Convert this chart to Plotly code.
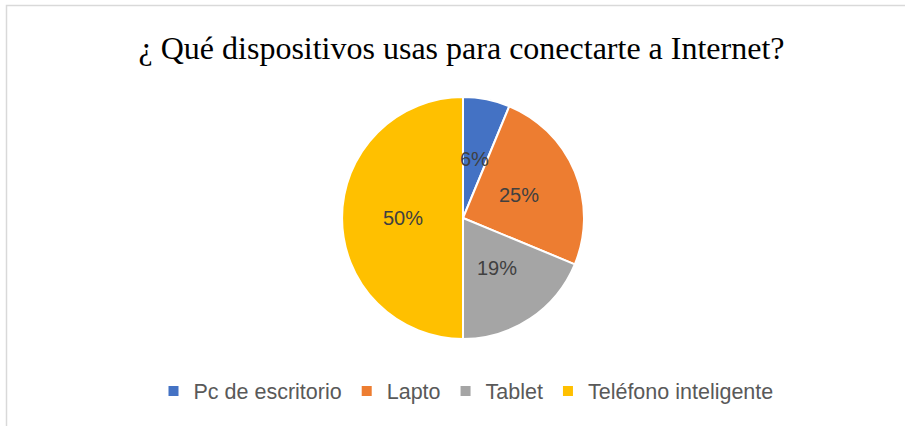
import math
import plotly.graph_objects as go

categories = ["Pc de escritorio", "Lapto", "Tablet", "Teléfono inteligente"]
values = [6.25, 25, 18.75, 50]
colors = ["#4472C4", "#ED7D31", "#A5A5A5", "#FFC000"]
title_text = "¿ Qué dispositivos usas para conectarte a Internet?"

W, H = 905, 426
# pie geometry (pixels)
CX, CY, R = 463, 218, 121
LABEL_FRAC = 0.5

fig = go.Figure(go.Pie(
    labels=categories,
    values=values,
    sort=False,
    direction="clockwise",
    rotation=0,
    marker=dict(colors=colors, line=dict(color="white", width=2)),
    textinfo="none",
    domain=dict(x=[(CX - R) / W, (CX + R) / W], y=[(H - CY - R) / H, (H - CY + R) / H]),
    hoverinfo="label+percent",
))

# data labels placed at half radius, at the middle angle of each slice (as Excel does)
total = sum(values)
annotations = []
cum = 0.0
for v in values:
    mid = (cum + v / 2) / total
    cum += v
    th = 2 * math.pi * mid
    px = CX + LABEL_FRAC * R * math.sin(th)
    py = CY - LABEL_FRAC * R * math.cos(th)
    annotations.append(dict(
        x=px / W, y=(H - py) / H, xref="paper", yref="paper",
        text=f"{round(100 * v / total)}%", showarrow=False,
        xanchor="center", yanchor="middle",
        font=dict(family="Liberation Sans, Arial", size=20, color="#404040"),
    ))

fig.update_layout(
    width=W, height=H,
    margin=dict(l=0, r=0, t=0, b=0),
    paper_bgcolor="white",
    plot_bgcolor="white",
    title=dict(text=title_text, x=461.5 / W, xanchor="center", y=1 - 48 / H, yanchor="middle",
               font=dict(family="Liberation Serif, Times New Roman", size=32, color="black")),
    legend=dict(orientation="h", x=466 / W, xanchor="center", y=(H - 391) / H, yanchor="middle",
                font=dict(family="Liberation Sans, Arial", size=21.5, color="#595959"),
                traceorder="normal"),
    annotations=annotations,
    shapes=[dict(type="rect", xref="paper", yref="paper", x0=6.5 / W, y0=-0.2, x1=1.2, y1=1 - 5.5 / H,
                 line=dict(color="#D9D9D9", width=1.5), fillcolor="rgba(0,0,0,0)")],
)

fig.write_html("out.html", config={"displayModeBar": False},
               post_script="document.body.style.margin='0px';")
